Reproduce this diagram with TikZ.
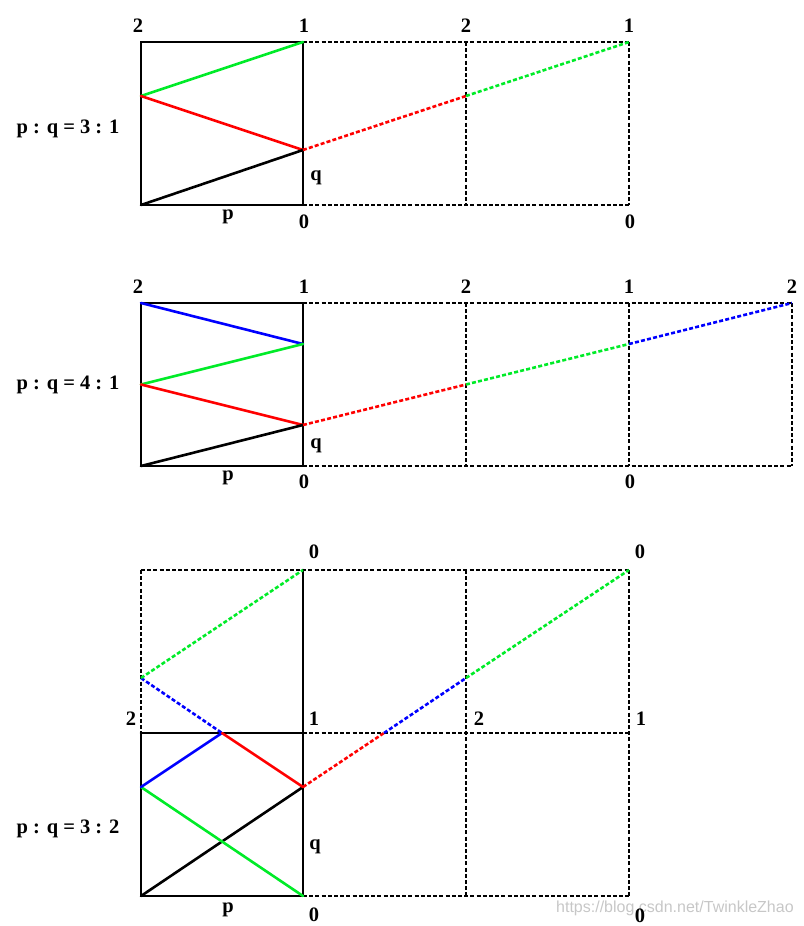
\documentclass[tikz,border=0pt]{standalone}
\usepackage{fontspec}
\setmainfont{Liberation Serif}
\newfontfamily\wmfont{Liberation Sans}
\definecolor{lgreen}{RGB}{0,235,40}
\definecolor{lred}{RGB}{255,0,0}
\definecolor{lblue}{RGB}{0,0,255}
\begin{document}
\begin{tikzpicture}[x=1pt,y=-1pt,
  solidline/.style={line width=2.6pt, line cap=round},
  dashline/.style={line width=2.6pt, dash pattern=on 4pt off 2.2pt},
  lbl/.style={font=\bfseries\fontsize{20.5}{20.5}\selectfont, inner sep=0pt},
  ratio/.style={font=\bfseries\fontsize{20.5}{20.5}\selectfont, inner sep=0pt},
  wm/.style={font=\wmfont\fontsize{16}{16}\selectfont, text=black!22, inner sep=0pt}]
\useasboundingbox (0,0) rectangle (803,926);

% ---------- Diagram 1 : p:q = 3:1 ----------
\coordinate (A1) at (141,42);  \coordinate (B1) at (303,42);
\coordinate (C1) at (466,42);  \coordinate (D1) at (629,42);
\coordinate (E1) at (141,205); \coordinate (F1) at (303,205);
\coordinate (G1) at (466,205); \coordinate (H1) at (629,205);
\coordinate (L1) at (141,96);  \coordinate (R1) at (303,150);
\coordinate (M1) at (466,96);
\draw[dashline] (B1) -- (D1) (F1) -- (H1) (C1) -- (G1) (D1) -- (H1);
\draw[solidline] (A1) rectangle (F1);
\draw[solidline, lgreen] (L1) -- (B1);
\draw[solidline, lred] (L1) -- (R1);
\draw[solidline, black] (E1) -- (R1);
\draw[dashline, lred] (R1) -- (M1);
\draw[dashline, lgreen] (M1) -- (D1);
\node[lbl] (t1a) at (138,26) {2};
\node[lbl] (t1b) at (304,26) {1};
\node[lbl] (t1c) at (466,26) {2};
\node[lbl] (t1d) at (629,26) {1};
\node[lbl] (t1e) at (304,222) {0};
\node[lbl] (t1f) at (630,222) {0};
\node[lbl] (t1p) at (228,217) {p};
\node[lbl] (t1q) at (316,178) {q};
\node[ratio] (r1) at (68,129) {p : q = 3 : 1};

% ---------- Diagram 2 : p:q = 4:1 ----------
\coordinate (A2) at (141,303);  \coordinate (B2) at (303,303);
\coordinate (C2) at (466,303);  \coordinate (D2) at (629,303);
\coordinate (K2) at (792,303);
\coordinate (E2) at (141,466);  \coordinate (F2) at (303,466);
\coordinate (G2) at (466,466);  \coordinate (H2) at (629,466);
\coordinate (J2) at (792,466);
\coordinate (P2) at (303,344);  \coordinate (Q2) at (141,384.5);
\coordinate (R2) at (303,425);  \coordinate (M2) at (466,384.5);
\coordinate (N2) at (629,344);
\draw[dashline] (B2) -- (K2) (F2) -- (J2) (C2) -- (G2) (D2) -- (H2) (K2) -- (J2);
\draw[solidline] (A2) rectangle (F2);
\draw[solidline, lblue] (A2) -- (P2);
\draw[solidline, lgreen] (Q2) -- (P2);
\draw[solidline, lred] (Q2) -- (R2);
\draw[solidline, black] (E2) -- (R2);
\draw[dashline, lred] (R2) -- (M2);
\draw[dashline, lgreen] (M2) -- (N2);
\draw[dashline, lblue] (N2) -- (K2);
\node[lbl] (t2a) at (138,287) {2};
\node[lbl] (t2b) at (304,287) {1};
\node[lbl] (t2c) at (466,287) {2};
\node[lbl] (t2d) at (629,287) {1};
\node[lbl] (t2e) at (792,287) {2};
\node[lbl] (t2f) at (304,482) {0};
\node[lbl] (t2g) at (630,482) {0};
\node[lbl] (t2p) at (228,478) {p};
\node[lbl] (t2q) at (316,446) {q};
\node[ratio] (r2) at (68,385) {p : q = 4 : 1};

% ---------- Diagram 3 : p:q = 3:2 ----------
\coordinate (U1) at (141,570);  \coordinate (U2) at (303,570);
\coordinate (U3) at (466,570);  \coordinate (U4) at (629,570);
\coordinate (V1) at (141,733);  \coordinate (V2) at (303,733);
\coordinate (V3) at (466,733);  \coordinate (V4) at (629,733);
\coordinate (W1) at (141,896);  \coordinate (W2) at (303,896);
\coordinate (W3) at (466,896);  \coordinate (W4) at (629,896);
\coordinate (S1) at (141,787);  \coordinate (S2) at (303,787);
\coordinate (S3) at (222,733);  \coordinate (S4) at (141,678);
\coordinate (S5) at (384,733);  \coordinate (S6) at (466,678);
\draw[dashline] (U1) -- (V1) (U1) -- (U4) (V2) -- (V4) (W2) -- (W4)
  (U3) -- (W3) (U4) -- (W4);
\draw[solidline] (V1) -- (W1) -- (W2) -- (U2) (V1) -- (V2);
\draw[solidline, black] (W1) -- (S2);
\draw[solidline, lgreen] (S1) -- (W2);
\draw[solidline, lblue] (S1) -- (S3);
\draw[solidline, lred] (S3) -- (S2);
\draw[dashline, lblue] (S4) -- (S3);
\draw[dashline, lgreen] (S4) -- (U2);
\draw[dashline, lred] (S2) -- (S5);
\draw[dashline, lblue] (S5) -- (S6);
\draw[dashline, lgreen] (S6) -- (U4);
\node[wm, anchor=west] (wmk) at (556,908) {https://blog.csdn.net/TwinkleZhao};
\node[lbl] (t3a) at (314,552) {0};
\node[lbl] (t3b) at (640,552) {0};
\node[lbl] (t3c) at (131,719) {2};
\node[lbl] (t3d) at (314,719) {1};
\node[lbl] (t3e) at (479,719) {2};
\node[lbl] (t3f) at (641,719) {1};
\node[lbl] (t3g) at (314,915) {0};
\node[lbl] (t3h) at (640,916) {0};
\node[lbl] (t3p) at (228,910) {p};
\node[lbl] (t3q) at (315,847) {q};
\node[ratio] (r3) at (68,829) {p : q = 3 : 2};
\end{tikzpicture}
\end{document}
